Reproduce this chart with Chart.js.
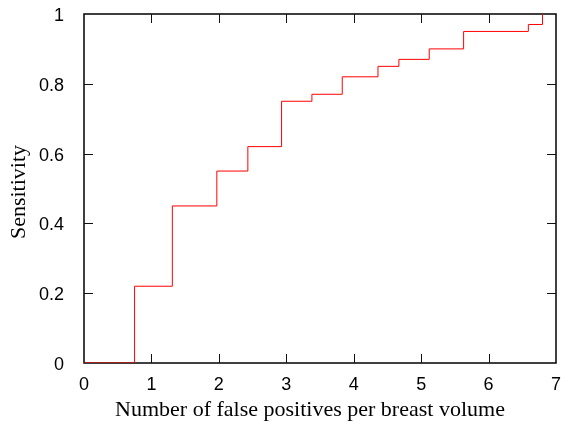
<!DOCTYPE html>
<html>
<head>
<meta charset="utf-8">
<script src="https://cdn.jsdelivr.net/npm/chart.js@4.4.1/dist/chart.umd.min.js"></script>
<style>
  html, body { margin: 0; padding: 0; background: #fff; }
  #wrap { width: 561px; height: 422px; position: relative; }
</style>
</head>
<body>
<div id="wrap"><canvas id="c" width="561" height="422"></canvas></div>
<script>
// False positives per breast volume (x) where sensitivity steps up, and the sensitivity reached (y)
const falsePositives = [0, 0.75, 1.31, 1.97, 2.43, 2.93, 3.38, 3.83, 4.36, 4.67, 5.12, 5.63, 6.59, 6.80];
const sensitivity    = [0, 0.22, 0.45, 0.55, 0.62, 0.75, 0.77, 0.82, 0.85, 0.87, 0.90, 0.95, 0.97, 1.00];
const xTicks = [0, 1, 2, 3, 4, 5, 6, 7];
const yTicks = [0, 0.2, 0.4, 0.6, 0.8, 1];
const xTitle = 'Number of false positives per breast volume';
const yTitle = 'Sensitivity';

const points = falsePositives.map((x, i) => ({ x: x, y: sensitivity[i] }));

function noPad(s) { s.paddingTop = 0; s.paddingBottom = 0; s.paddingLeft = 0; s.paddingRight = 0; }

const frame = {
  id: 'frame',
  beforeDatasetsDraw(chart) {
    const { ctx, chartArea: a, scales } = chart;
    ctx.save();
    ctx.strokeStyle = '#000';
    ctx.lineWidth = 1.5;
    ctx.strokeRect(a.left, a.top, a.right - a.left, a.bottom - a.top);
    ctx.lineWidth = 1;
    ctx.strokeStyle = '#111';
    const tl = 9;
    ctx.beginPath();
    xTicks.forEach(v => {
      const px = Math.round(scales.x.getPixelForValue(v)) + 0.5;
      if (v === xTicks[0] || v === xTicks[xTicks.length - 1]) return;
      ctx.moveTo(px, a.bottom); ctx.lineTo(px, a.bottom - tl);
      ctx.moveTo(px, a.top); ctx.lineTo(px, a.top + tl);
    });
    yTicks.forEach(v => {
      const py = Math.round(scales.y.getPixelForValue(v)) + 0.5;
      if (v === yTicks[0] || v === yTicks[yTicks.length - 1]) return;
      ctx.moveTo(a.left, py); ctx.lineTo(a.left + tl, py);
      ctx.moveTo(a.right, py); ctx.lineTo(a.right - tl, py);
    });
    ctx.stroke();
    ctx.restore();
  },
  afterDraw(chart) {
    const { ctx, chartArea: a } = chart;
    ctx.save();
    ctx.fillStyle = '#000';
    ctx.font = '22px "Liberation Serif", "Times New Roman", serif';
    ctx.textAlign = 'center';
    ctx.textBaseline = 'alphabetic';
    ctx.fillText(xTitle, a.left + 226, a.bottom + 53);
    ctx.translate(25, a.top + 178);
    ctx.rotate(-Math.PI / 2);
    ctx.fillText(yTitle, 0, 0);
    ctx.restore();
  }
};

new Chart(document.getElementById('c'), {
  type: 'line',
  data: {
    datasets: [{
      data: points,
      borderColor: '#ff0000',
      borderWidth: 1,
      pointRadius: 0,
      fill: false,
      stepped: 'before',
      tension: 0
    }]
  },
  options: {
    responsive: false,
    animation: false,
    devicePixelRatio: 1,
    layout: { padding: { top: 14, right: 5, left: 0, bottom: 0 } },
    plugins: { legend: { display: false }, tooltip: { enabled: false } },
    scales: {
      x: {
        type: 'linear',
        min: 0, max: 7,
        afterBuildTicks(s) { s.ticks = xTicks.map(v => ({ value: v })); },
        afterFit(s) { s.height = 59; noPad(s); },
        grid: { display: false },
        border: { display: false },
        ticks: {
          color: '#000',
          font: { family: '"Liberation Sans", Arial, sans-serif', size: 18 },
          padding: 3,
          maxRotation: 0,
          callback: v => String(v)
        }
      },
      y: {
        type: 'linear',
        min: 0, max: 1,
        afterBuildTicks(s) { s.ticks = yTicks.map(v => ({ value: v })); },
        afterFit(s) { s.width = 84; noPad(s); },
        grid: { display: false },
        border: { display: false },
        ticks: {
          color: '#000',
          font: { family: '"Liberation Sans", Arial, sans-serif', size: 18 },
          padding: 12,
          labelOffset: 2,
          callback: v => String(Math.round(v * 10) / 10)
        }
      }
    }
  },
  plugins: [frame]
});
</script>
</body>
</html>
